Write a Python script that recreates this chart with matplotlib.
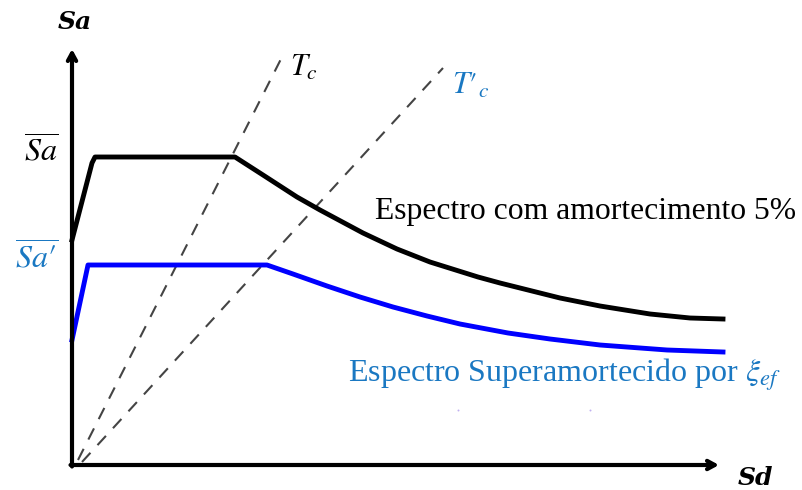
import matplotlib.pyplot as plt

plt.rcParams['mathtext.fontset'] = 'stix'

# spectrum with 5% damping (Sd, Sa)
sd_5 = [0, 20, 23, 163, 191, 225, 248, 291, 325, 358, 406, 428, 448,
        488, 528, 578, 618, 651]
sa_5 = [225, 302, 308, 308, 290, 268, 255, 232, 216, 203, 188, 182, 177,
        167, 159, 151, 147, 146]

# overdamped spectrum
sd_ef = [0, 16, 195, 221, 255, 288, 321, 355, 388, 436, 478, 528, 595, 651]
sa_ef = [125, 200, 200, 191, 179, 168, 158, 149, 141, 132, 126, 120, 115, 113]

# corner period lines
tc_sd = [6, 211]
tc_sa = [5, 410]
tc2_sd = [10, 371]
tc2_sa = [3, 397]

# stray marks
dots_sd = [386, 518]
dots_sa = [55, 55]

blue_txt = '#1a78c2'

fig = plt.figure(figsize=(8.02, 4.90), dpi=100)
ax = fig.add_axes([0, 0, 1, 1])
ax.set_xlim(-72, 730)
ax.set_ylim(-25, 465)
ax.axis('off')

# axes with open arrow heads
arrow = dict(arrowstyle='->,head_length=0.55,head_width=0.3', lw=3, color='black',
             shrinkA=0, shrinkB=0)
ax.annotate('', xy=(0, 416), xytext=(0, -1.5), arrowprops=arrow)
ax.annotate('', xy=(647, 0), xytext=(-1.5, 0), arrowprops=arrow)

ax.plot(tc_sd, tc_sa, color='#444444', lw=1.5, dashes=(6, 5))
ax.plot(tc2_sd, tc2_sa, color='#444444', lw=1.5, dashes=(6, 5))

ax.plot(sd_5, sa_5, color='black', lw=3.5, solid_joinstyle='round')
ax.plot(sd_ef, sa_ef, color='#0000ff', lw=3.5, solid_joinstyle='round')

ax.scatter(dots_sd, dots_sa, s=2, color='#c0b0f0', lw=0)

ax.text(3, 443, 'Sa', fontsize=18, fontweight='bold', style='italic',
        family='DejaVu Serif', ha='center', va='center')
ax.text(666, -13, 'Sd', fontsize=18, fontweight='bold', style='italic',
        family='DejaVu Serif', ha='left', va='center')

ax.text(218, 398, r'$T_c$', fontsize=22, ha='left', va='center')
ax.text(380, 380, r"$T\prime_c$", fontsize=22, ha='left', va='center', color=blue_txt)

ax.text(-14, 313, r'$\overline{Sa}$', fontsize=23, ha='right', va='center')
ax.text(-14, 207, r"$\overline{Sa\prime}$", fontsize=23, ha='right', va='center',
        color=blue_txt)

ax.text(303, 253, 'Espectro com amortecimento 5%', fontsize=22.8,
        family='Liberation Serif', ha='left', va='center')
ax.text(276, 90, r'Espectro Superamortecido por $\xi_{ef}$', fontsize=23,
        family='Liberation Serif', ha='left', va='center', color=blue_txt)

fig.savefig('out.png', dpi=100)
